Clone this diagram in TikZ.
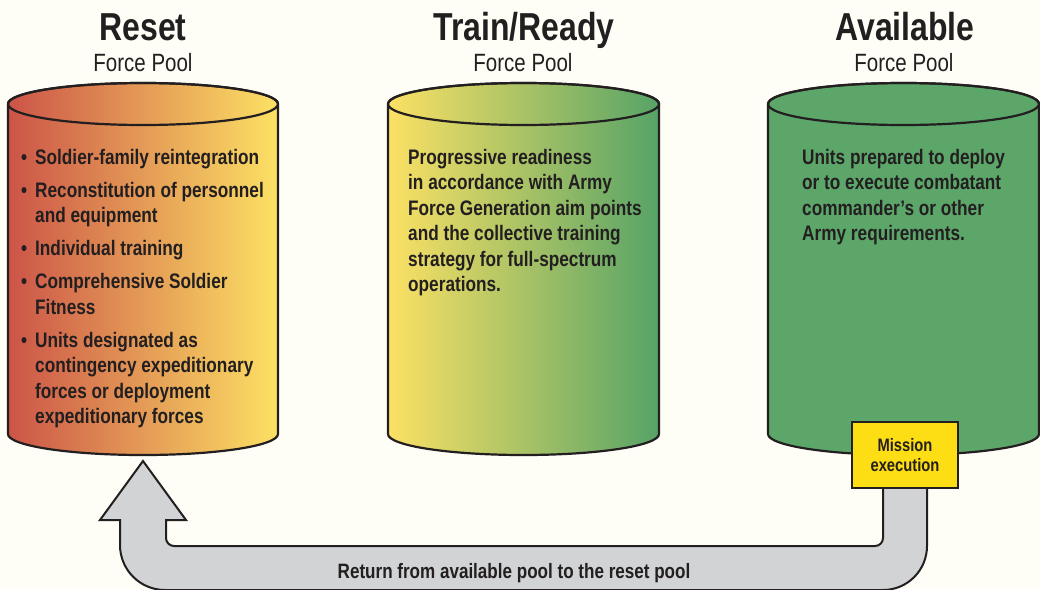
\documentclass[tikz,border=0pt]{standalone}
\usepackage{fontspec}
\setmainfont{Liberation Sans}[FakeStretch=0.82]
\usetikzlibrary{positioning}
\definecolor{paper}{RGB}{254,254,246}
\definecolor{outline}{RGB}{35,31,32}
\definecolor{resetred}{RGB}{204,84,72}
\definecolor{sunyellow}{RGB}{252,225,100}
\definecolor{armygreen}{RGB}{93,166,106}
\definecolor{traingreen}{RGB}{86,163,103}
\definecolor{missionyellow}{RGB}{253,221,20}
\definecolor{returngray}{RGB}{209,211,212}

\begin{document}
\begin{tikzpicture}[x=1pt, y=-1pt,
                    pool/.style={draw=outline, line width=2.2pt},
                    title/.style={font=\fontsize{39}{40}\selectfont\bfseries, text=outline, anchor=base, inner sep=0},
                    subtitle/.style={font=\fontsize{25}{26}\selectfont, text=outline, anchor=base, inner sep=0},
                    body/.style={font=\fontsize{21}{25.5}\selectfont\bfseries, text=outline, align=left, anchor=north west, inner sep=0},
                    mission/.style={draw=outline, line width=2pt, fill=missionyellow, align=center,
                                    minimum width=106, minimum height=66, inner sep=0,
                                    font=\fontsize{18}{20}\selectfont\bfseries, text=outline},
                    return/.style={draw=outline, line width=2pt, fill=returngray, line join=miter}]
    \useasboundingbox[fill=paper] (0,0) rectangle (1040,589);

    \node[title] (reset) at (143,40) {Reset};
    \node[subtitle] (resetsub) at (143,71) {Force Pool};
    \node[title] (train) at (524,40) {Train/Ready};
    \node[subtitle] (trainsub) at (523,71) {Force Pool};
    \node[title] (avail) at (905,40) {Available};
    \node[subtitle] (availsub) at (904,71) {Force Pool};

    \draw[pool, left color=resetred, right color=sunyellow]
        (8,104) -- (8,434) arc[start angle=180, end angle=0, x radius=135, y radius=21]
        -- (278,104) arc[start angle=0, end angle=-180, x radius=135, y radius=21] -- cycle;
    \draw[pool] (143,104) ellipse[x radius=135, y radius=21];

    \draw[pool, left color=sunyellow, right color=traingreen]
        (388,104) -- (388,434) arc[start angle=180, end angle=0, x radius=135.5, y radius=21]
        -- (659,104) arc[start angle=0, end angle=-180, x radius=135.5, y radius=21] -- cycle;
    \draw[pool] (523.5,104) ellipse[x radius=135.5, y radius=21];

    \draw[pool, fill=armygreen]
        (768,104) -- (768,434) arc[start angle=180, end angle=0, x radius=135.5, y radius=21]
        -- (1039,104) arc[start angle=0, end angle=-180, x radius=135.5, y radius=21] -- cycle;
    \draw[pool] (903.5,104) ellipse[x radius=135.5, y radius=21];

    \node[body] (resettext) at (21,149) {%
        \makebox[14pt][l]{\textbullet}Soldier-family reintegration\\[7.5pt]
        \makebox[14pt][l]{\textbullet}Reconstitution of personnel\\
        \hspace*{14pt}and equipment\\[7.5pt]
        \makebox[14pt][l]{\textbullet}Individual training\\[7.5pt]
        \makebox[14pt][l]{\textbullet}Comprehensive Soldier\\
        \hspace*{14pt}Fitness\\[7.5pt]
        \makebox[14pt][l]{\textbullet}Units designated as\\
        \hspace*{14pt}contingency expeditionary\\
        \hspace*{14pt}forces or deployment\\
        \hspace*{14pt}expeditionary forces};
    \node[body] (traintext) at (408,149) {Progressive readiness\\
        in accordance with Army\\
        Force Generation aim points\\
        and the collective training\\
        strategy for full-spectrum\\
        operations.};
    \node[body] (availtext) at (802,149) {Units prepared to deploy\\
        or to execute combatant\\
        commander's or other\\
        Army requirements.};

    \draw[return] (166,520) -- (186,520) -- (143,461) -- (100,520) -- (120,520) -- (120,545)
        arc[start angle=180, end angle=90, radius=45] -- (883,590)
        arc[start angle=90, end angle=0, radius=44] -- (927,480) -- (883,480) -- (883,538)
        arc[start angle=0, end angle=90, radius=8] -- (174,546)
        arc[start angle=90, end angle=180, radius=8] -- cycle;
    \node[font=\fontsize{20.8}{22}\selectfont\bfseries, text=outline, anchor=base, inner sep=0] (back) at (514,578)
        {Return from available pool to the reset pool};

    \node[mission] (misn) at (905,455) {Mission\\execution};
\end{tikzpicture}
\end{document}
